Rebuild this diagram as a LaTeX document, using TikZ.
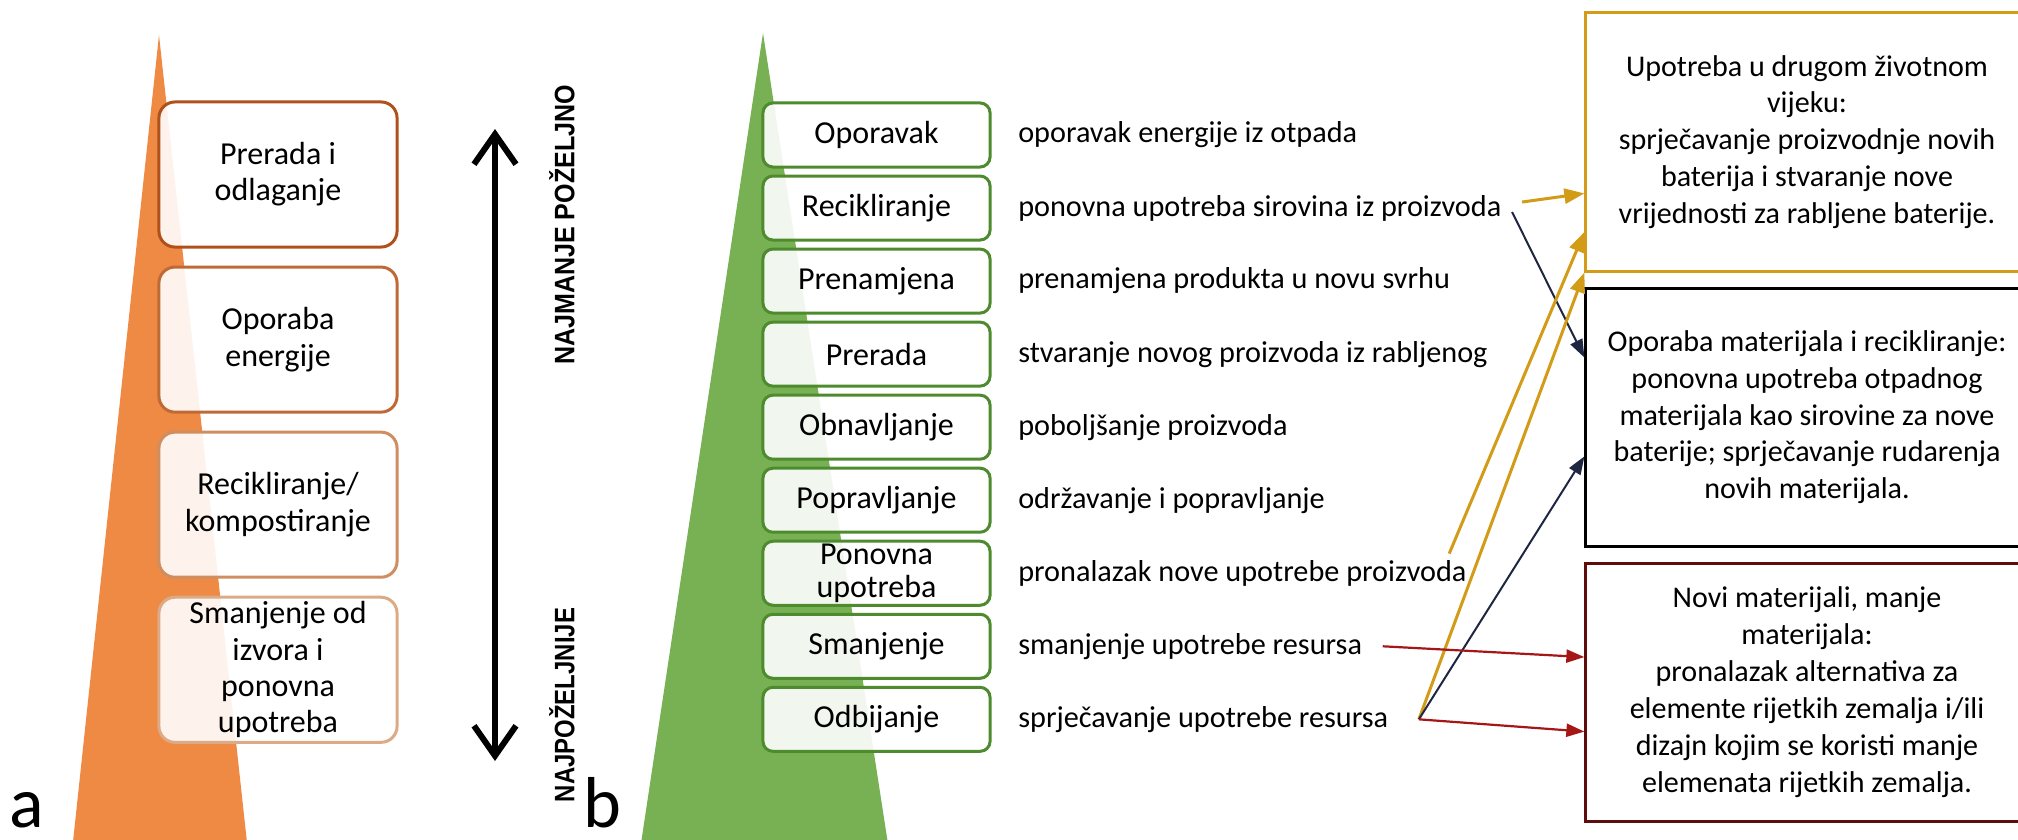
\documentclass[tikz,border=0pt]{standalone}
\usepackage{fontspec}
\setmainfont{Carlito}
\newfontfamily\sidefont{Liberation Sans}
\usetikzlibrary{arrows.meta,positioning}

\definecolor{orangeTri}{HTML}{EE8A43}
\definecolor{orangeA}{HTML}{B0501A}
\definecolor{orangeB}{HTML}{BF6A36}
\definecolor{orangeC}{HTML}{CF8E5F}
\definecolor{orangeD}{HTML}{DCAA84}
\definecolor{greenTri}{HTML}{78B153}
\definecolor{greenLine}{HTML}{4E8B2E}
\definecolor{goldLine}{HTML}{D29B18}
\definecolor{navyLine}{HTML}{1E2642}
\definecolor{redLine}{HTML}{A51616}
\definecolor{maroonLine}{HTML}{5E0C0C}

\tikzset{
  wastebox/.style={draw, line width=0.03cm, rounded corners=0.16cm, fill=white,
    fill opacity=0.9, text opacity=1, minimum width=2.38cm, minimum height=1.45cm,
    inner sep=0pt, align=center, font=\fontsize{9.1}{10.3}\selectfont},
  stepbox/.style={draw=greenLine, line width=0.03cm, rounded corners=0.1cm, fill=white,
    fill opacity=0.9, text opacity=1, minimum width=2.27cm, minimum height=0.64cm,
    inner sep=0pt, align=center, font=\fontsize{9.1}{9.6}\selectfont},
  stepdesc/.style={inner xsep=0.2cm, inner ysep=0pt, font=\fontsize{8.6}{10.4}\selectfont},
  lifebox/.style={draw, line width=0.03cm, fill=white, minimum width=4.42cm,
    minimum height=2.58cm, inner sep=0pt, align=center, font=\fontsize{8.55}{10.5}\selectfont},
  goldarrow/.style={draw=goldLine, line width=0.03cm, -{Triangle[length=0.2cm,width=0.15cm]}},
  navyarrow/.style={draw=navyLine, line width=0.02cm, -{Triangle[length=0.18cm,width=0.13cm]}},
  redarrow/.style={draw=redLine, line width=0.022cm, -{Triangle[length=0.18cm,width=0.13cm]}},
  sidelabel/.style={rotate=90, font=\sidefont\bfseries\fontsize{8}{9}\selectfont},
  panellabel/.style={anchor=base, inner sep=0pt, font=\fontsize{20.5}{24}\selectfont}
}

\begin{document}
\begin{tikzpicture}[x=0.01cm,y=-0.01cm]
  \useasboundingbox (0,0) rectangle (2018,840);
  \clip (0,0) rectangle (2018,840);

  % pyramids
  \fill[orangeTri] (159,35) -- (250,870) -- (70,870) -- cycle;
  \fill[greenTri] (763,33) -- (892,870) -- (637,870) -- cycle;

  % a) waste hierarchy
  \node (oPrerada)
        [wastebox, draw=orangeA] at (278,174.5)
        {Prerada i\\odlaganje};
  \node (oOporaba)
        [wastebox, draw=orangeB, below=0.17cm of oPrerada]
        {Oporaba\\energije};
  \node (oRecikliranje)
        [wastebox, draw=orangeC, below=0.17cm of oOporaba]
        {Recikliranje/\\kompostiranje};
  \node (oSmanjenje)
        [wastebox, draw=orangeD, below=0.17cm of oRecikliranje]
        {Smanjenje od\\izvora i\\ponovna\\upotreba};

  \node (labelA) [panellabel] at (27,827) {a};
  \node (labelB) [panellabel] at (602,827) {b};

  \coordinate (leastTop) at (495,129);
  \coordinate (mostBottom) at (495,761);
  \draw[line width=0.06cm,
        {Straight Barb[length=0.3cm,width=0.42cm]}-{Straight Barb[length=0.3cm,width=0.42cm]}]
        (leastTop) -- (mostBottom);
  \node (least) [sidelabel] at (562,225) {\scalebox{0.89}[1]{NAJMANJE POŽELJNO}};
  \node (most) [sidelabel] at (562,705) {\scalebox{0.85}[1]{NAJPOŽELJNIJE}};

  % b) R-strategies
  \node (gOporavak)
        [stepbox] at (876.5,135)
        {Oporavak};
  \node (gRecikliranje)
        [stepbox, below=0.06cm of gOporavak]
        {Recikliranje};
  \node (gPrenamjena)
        [stepbox, below=0.06cm of gRecikliranje]
        {Prenamjena};
  \node (gPrerada)
        [stepbox, below=0.06cm of gPrenamjena]
        {Prerada};
  \node (gObnavljanje)
        [stepbox, below=0.06cm of gPrerada]
        {Obnavljanje};
  \node (gPopravljanje)
        [stepbox, below=0.06cm of gObnavljanje]
        {Popravljanje};
  \node (gPonovna)
        [stepbox, below=0.06cm of gPopravljanje]
        {Ponovna\\upotreba};
  \node (gSmanjenje)
        [stepbox, below=0.06cm of gPonovna]
        {Smanjenje};
  \node (gOdbijanje)
        [stepbox, below=0.06cm of gSmanjenje]
        {Odbijanje};

  \node (dOporavak) [stepdesc, right=0.06cm of gOporavak] {oporavak energije iz otpada};
  \node (dRecikliranje) [stepdesc, right=0.06cm of gRecikliranje] {ponovna upotreba sirovina iz proizvoda};
  \node (dPrenamjena) [stepdesc, right=0.06cm of gPrenamjena] {prenamjena produkta u novu svrhu};
  \node (dPrerada) [stepdesc, right=0.06cm of gPrerada] {stvaranje novog proizvoda iz rabljenog};
  \node (dObnavljanje) [stepdesc, right=0.06cm of gObnavljanje] {poboljšanje proizvoda};
  \node (dPopravljanje) [stepdesc, right=0.06cm of gPopravljanje] {održavanje i popravljanje};
  \node (dPonovna) [stepdesc, right=0.06cm of gPonovna] {pronalazak nove upotrebe proizvoda};
  \node (dSmanjenje) [stepdesc, right=0.06cm of gSmanjenje] {smanjenje upotrebe resursa};
  \node (dOdbijanje) [stepdesc, right=0.06cm of gOdbijanje] {sprječavanje upotrebe resursa};

  % battery end of life
  \node (secondLife)
        [lifebox, draw=goldLine] at (1807,142)
        {Upotreba u drugom životnom\\vijeku:\\sprječavanje proizvodnje novih\\baterija i stvaranje nove\\vrijednosti za rabljene baterije.};
  \node (matRecovery)
        [lifebox, below=0.14cm of secondLife]
        {Oporaba materijala i recikliranje:\\ponovna upotreba otpadnog\\materijala kao sirovine za nove\\baterije; sprječavanje rudarenja\\novih materijala.};
  \node (newMaterials)
        [lifebox, draw=maroonLine, below=0.14cm of matRecovery]
        {Novi materijali, manje\\materijala:\\pronalazak alternativa za\\elemente rijetkih zemalja i/ili\\dizajn kojim se koristi manje\\elemenata rijetkih zemalja.};

  \coordinate (odbEnd) at ([xshift=0.1cm]dOdbijanje.east);

  \draw[goldarrow] ([yshift=0.06cm]dRecikliranje.east) -- (secondLife.193);
  \draw[navyarrow] ([xshift=-0.1cm,yshift=-0.04cm]dRecikliranje.east) -- (matRecovery.165);
  \draw[goldarrow] ([xshift=-0.38cm,yshift=0.06cm]dPonovna.north east) -- (secondLife.202);
  \draw[goldarrow] (odbEnd) -- (secondLife.south west);
  \draw[navyarrow] (odbEnd) -- (matRecovery.190);
  \draw[redarrow] (dSmanjenje.east) -- (newMaterials.171);
  \draw[redarrow] (odbEnd) -- (newMaterials.190);
\end{tikzpicture}
\end{document}
